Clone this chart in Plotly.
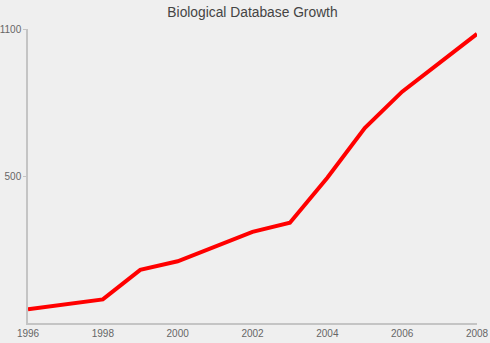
import plotly.graph_objects as go

years = [1996, 1998, 1999, 2000, 2002, 2003, 2004, 2005, 2006, 2008]
counts = [-40, 0, 120, 155, 275, 312, 495, 697, 845, 1080]
x_ticks = [1996, 1998, 2000, 2002, 2004, 2006, 2008]
y_ticks = [500, 1100]

fig = go.Figure(go.Scatter(
    x=years, y=counts, mode="lines",
    line=dict(color="#ff0000", width=4),
    hoverinfo="skip",
))

fig.update_layout(
    width=490, height=343,
    margin=dict(l=28, r=13, t=29, b=20, autoexpand=False),
    paper_bgcolor="#efefef", plot_bgcolor="#efefef",
    showlegend=False,
    font=dict(family="Liberation Sans, Arial, sans-serif", size=10, color="#666666"),
    title=dict(text="Biological Database Growth", xref="paper", x=0.5, xanchor="center",
               y=1 - 12 / 343, yanchor="middle",
               font=dict(size=13.8, color="#444444")),
)
fig.update_xaxes(
    range=[1996, 2008], tickvals=x_ticks, ticktext=[str(t) for t in x_ticks],
    showgrid=False, zeroline=False, showline=True, linecolor="#c4c4c4", linewidth=1.5,
    ticks="", tickfont=dict(size=10, color="#666666"),
)
fig.update_yaxes(
    range=[-96, 1100], tickvals=y_ticks, ticktext=[str(t) for t in y_ticks],
    showgrid=False, zeroline=False, showline=True, linecolor="#c4c4c4", linewidth=1.5,
    ticks="outside", ticklen=3, tickcolor="#c4c4c4", tickwidth=1,
    tickfont=dict(size=10, color="#666666"),
)

fig.write_html("out.html")
